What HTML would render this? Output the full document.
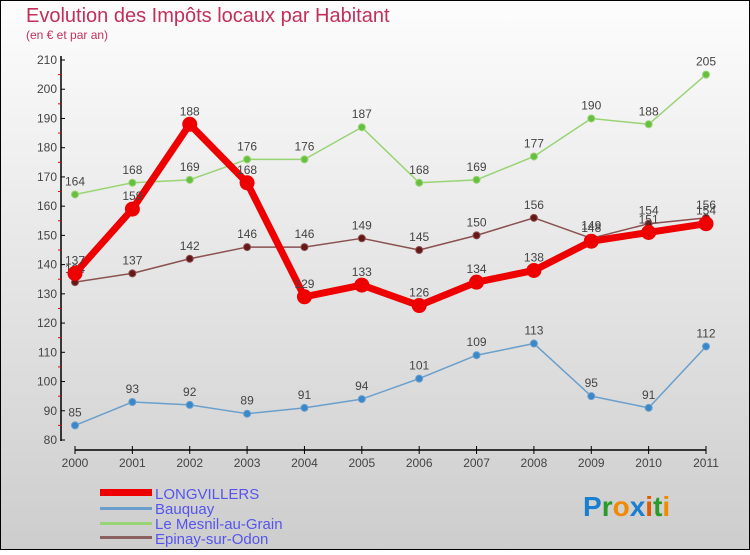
<!DOCTYPE html>
<html><head><meta charset="utf-8"><style>
body{margin:0}
#c{width:750px;height:550px;position:relative;font-family:"Liberation Sans",sans-serif;}
</style></head><body>
<div id="c">
<svg id="s" width="750" height="550" xmlns="http://www.w3.org/2000/svg">
<defs><linearGradient id="bg" x1="0" y1="0" x2="0" y2="1"><stop offset="0" stop-color="#fdfdfd"/><stop offset="1" stop-color="#cdcdcd"/></linearGradient></defs>
<rect x="0.5" y="0.5" width="749" height="549" fill="url(#bg)" stroke="#000"/>
<text x="26" y="22" font-size="20" fill="#c0305a">Evolution des Impôts locaux par Habitant</text>
<text x="26" y="39" font-size="12" fill="#c0305a">(en € et par an)</text>
<g id="axes"></g><g id="series"></g>
<g>
<rect x="100" y="489" width="52" height="7" fill="#e00"/>
<text x="155" y="499" font-size="15" fill="#5555ee">LONGVILLERS</text>
<rect x="100" y="507" width="52" height="3" fill="#6a9fcc"/>
<text x="155" y="514" font-size="15" fill="#5555ee">Bauquay</text>
<rect x="100" y="522" width="52" height="3" fill="#99d474"/>
<text x="155" y="529" font-size="15" fill="#5555ee">Le Mesnil-au-Grain</text>
<rect x="100" y="536" width="52" height="3" fill="#8b6060"/>
<text x="155" y="544" font-size="15" fill="#5555ee">Epinay-sur-Odon</text>
</g>
<g font-size="28" font-weight="bold">
<text x="583" y="516"><tspan fill="#1a7fd0">P</tspan><tspan fill="#2a9a2a">r</tspan><tspan fill="#f08a00">o</tspan><tspan fill="#1a7fd0">x</tspan><tspan fill="#e05a00">i</tspan><tspan fill="#2a9a2a">t</tspan><tspan fill="#f08a00">i</tspan></text>
</g>
</svg></div>
<script>
const years=[2000,2001,2002,2003,2004,2005,2006,2007,2008,2009,2010,2011];
const longvillers=[137,159,188,168,129,133,126,134,138,148,151,154];
const bauquay=[85,93,92,89,91,94,101,109,113,95,91,112];
const mesnil=[164,168,169,176,176,187,168,169,177,190,188,205];
const epinay=[134,137,142,146,146,149,145,150,156,149,154,156];
const yTicks=[80,90,100,110,120,130,140,150,160,170,180,190,200,210];
const NS="http://www.w3.org/2000/svg";
const x=i=>75+i*(706-75)/11;
const y=v=>440-(v-80)*(380/130);
function mk(tag,at,parent){const e=document.createElementNS(NS,tag);for(const k in at)e.setAttribute(k,at[k]);parent.appendChild(e);return e;}
const ax=document.getElementById('axes');
let l=mk('line',{x1:61,y1:56,x2:61,y2:441,stroke:'#000','stroke-width':1.5},ax);


l=mk('line',{x1:75,y1:450,x2:706,y2:450,stroke:'#000','stroke-width':1.5},ax);


yTicks.forEach((v,k)=>{
 mk('line',{x1:61,y1:y(v),x2:65,y2:y(v),stroke:'#000'},ax);
 if(k<yTicks.length-1) mk('line',{x1:58,y1:y(v+5),x2:61,y2:y(v+5),stroke:'#e00'},ax);
 const t=mk('text',{x:57,y:y(v)+4,'font-size':12,fill:'#444','text-anchor':'end'},ax);t.textContent=v;
 
 
});
years.forEach((yr,i)=>{
 mk('line',{x1:x(i),y1:446,x2:x(i),y2:454,stroke:'#000'},ax);
 const t=mk('text',{x:x(i),y:467,'font-size':12,fill:'#444','text-anchor':'middle'},ax);t.textContent=yr;
 
 
});
const sg=document.getElementById('series');
function series(data,color,dot,w,r,name){
 const g=mk('g',{},sg);
 
 
 mk('polyline',{points:data.map((v,i)=>x(i)+','+y(v)).join(' '),fill:'none',stroke:color,'stroke-width':w,'stroke-linejoin':'round'},g);
 data.forEach((v,i)=>{
  const c=mk('circle',{cx:x(i),cy:y(v),r:r,fill:dot,stroke:color,'stroke-width':1},g);
  
  
  const t=mk('text',{x:x(i),y:y(v)-9,'font-size':12,fill:'#444','text-anchor':'middle'},g);t.textContent=v;
 });
}
series(bauquay,'#6a9fcc','#3a88c8',1.5,3.5,'bauquay');
series(mesnil,'#99d474','#66c040',1.5,3.5,'mesnil');
series(epinay,'#8b5050','#661818',1.5,3.5,'epinay');
series(longvillers,'#ee0000','#ee0000',7,7,'longvillers');
</script>
</body></html>
